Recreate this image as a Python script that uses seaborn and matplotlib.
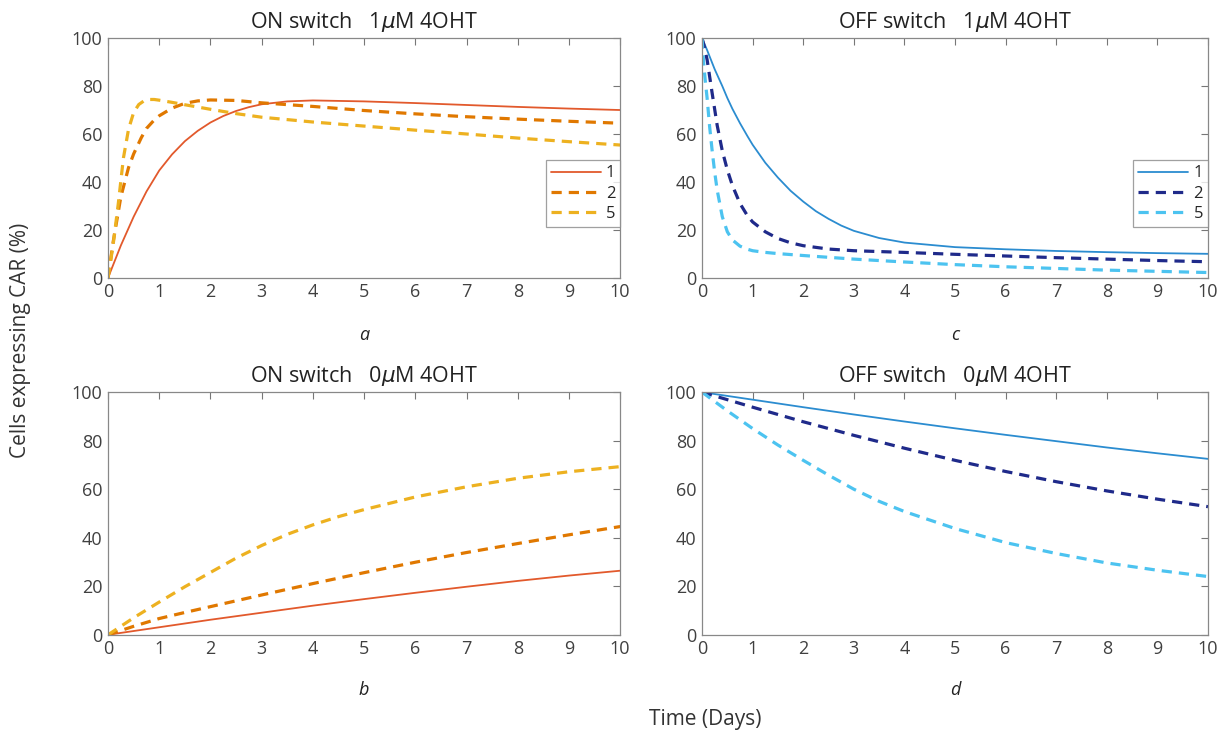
import pandas as pd
import matplotlib
matplotlib.use("Agg")
import matplotlib.pyplot as plt
import seaborn as sns

# curve readings (days, % cells expressing CAR)
a1_x = [0, 0.25, 0.5, 0.75, 1, 1.25, 1.5, 1.75, 2, 2.25, 2.5, 2.75, 3, 3.5, 4, 5, 6, 7, 8, 9, 10]
a1_y = [0, 13.5, 25.5, 36, 44.8, 51.5, 57, 61.3, 64.8, 67.5, 69.6, 71.2, 72.4, 73.6, 74, 73.6, 72.9, 72.1, 71.3, 70.6, 70]
a2_x = [0, 0.1, 0.25, 0.4, 0.5, 0.65, 0.75, 0.9, 1, 1.25, 1.5, 1.75, 2, 2.5, 3, 4, 5, 6, 7, 8, 9, 10]
a2_y = [0, 15, 33.8, 46, 51.7, 58.5, 62.3, 65.8, 67.6, 70.8, 72.8, 73.8, 74.2, 74, 73, 71.5, 69.8, 68.4, 67.2, 66.2, 65.3, 64.5]
a5_x = [0, 0.05, 0.1, 0.2, 0.3, 0.4, 0.5, 0.6, 0.7, 0.8, 0.9, 1, 1.25, 1.5, 2, 2.5, 3, 4, 5, 6, 7, 8, 9, 10]
a5_y = [0, 7, 14, 31, 50, 62, 69, 72.3, 73.8, 74.4, 74.4, 74.1, 73.2, 72.2, 70.3, 68.5, 67, 65, 63.3, 61.6, 60, 58.3, 56.8, 55.4]

c1_x = [0, 0.1, 0.25, 0.4, 0.5, 0.6, 0.75, 0.9, 1, 1.25, 1.5, 1.75, 2, 2.25, 2.5, 2.75, 3, 3.5, 4, 5, 6, 7, 8, 9, 10]
c1_y = [100, 95, 87, 80, 75, 70.5, 64.5, 59, 55.5, 48, 41.8, 36.3, 31.8, 27.8, 24.6, 21.8, 19.6, 16.6, 14.7, 12.8, 11.9, 11.2, 10.7, 10.3, 10]
c2_x = [0, 0.05, 0.1, 0.2, 0.3, 0.4, 0.5, 0.6, 0.75, 0.9, 1, 1.25, 1.5, 1.75, 2, 2.5, 3, 4, 5, 6, 7, 8, 9, 10]
c2_y = [100, 96, 91, 77, 63.5, 53, 45, 38.5, 31, 25.8, 23.3, 19.2, 16.4, 14.6, 13.4, 12, 11.3, 10.6, 9.8, 9.1, 8.4, 7.8, 7.2, 6.7]
c5_x = [0, 0.03, 0.06, 0.1, 0.15, 0.2, 0.25, 0.3, 0.4, 0.5, 0.6, 0.75, 0.9, 1, 1.25, 1.5, 2, 3, 4, 5, 6, 7, 8, 9, 10]
c5_y = [100, 90, 83, 75, 63, 53, 44, 36.5, 25.5, 19.2, 15.8, 13.2, 11.9, 11.3, 10.6, 10.1, 9.3, 7.8, 6.6, 5.5, 4.6, 3.9, 3.2, 2.7, 2.2]

b1_x = [0, 1, 2, 3, 4, 5, 6, 7, 8, 9, 10]
b1_y = [0, 3.1, 6.2, 9.1, 12, 14.7, 17.3, 19.8, 22.2, 24.4, 26.4]
b2_x = [0, 0.5, 1, 1.5, 2, 3, 4, 5, 6, 7, 8, 9, 10]
b2_y = [0, 3.5, 6.7, 9.2, 11.6, 16.4, 21.1, 25.6, 29.9, 33.9, 37.6, 41.2, 44.6]
b5_x = [0, 0.5, 1, 1.5, 2, 2.5, 3, 3.5, 4, 4.5, 5, 6, 7, 8, 9, 10]
b5_y = [0, 7, 13.5, 19.8, 25.7, 31.6, 36.8, 41.4, 45.3, 48.7, 51.6, 56.8, 61, 64.5, 67.2, 69.3]

d_x = [0, 1, 2, 3, 4, 5, 6, 7, 8, 9, 10]
d1_y = [100, 96.9, 93.8, 90.8, 87.9, 85.1, 82.4, 79.8, 77.2, 74.8, 72.5]
d2_y = [100, 93.8, 87.8, 82.2, 76.9, 71.9, 67.3, 63.1, 59.3, 55.9, 52.8]
d5_x = [0, 0.5, 1, 1.5, 2, 2.5, 3, 3.5, 4, 5, 6, 7, 8, 9, 10]
d5_y = [100, 92.3, 85, 78.2, 71.9, 65.8, 60, 55, 50.8, 43.8, 38, 33.5, 29.6, 26.6, 24]

series_names = ["1", "2", "5"]
titles = {
    "a": "ON switch   1$\\mu$M 4OHT",
    "b": "ON switch   0$\\mu$M 4OHT",
    "c": "OFF switch   1$\\mu$M 4OHT",
    "d": "OFF switch   0$\\mu$M 4OHT",
}
x_ticks = list(range(0, 11))
y_ticks = [0, 20, 40, 60, 80, 100]

panels = {
    "a": [(a1_x, a1_y), (a2_x, a2_y), (a5_x, a5_y)],
    "b": [(b1_x, b1_y), (b2_x, b2_y), (b5_x, b5_y)],
    "c": [(c1_x, c1_y), (c2_x, c2_y), (c5_x, c5_y)],
    "d": [(d_x, d1_y), (d_x, d2_y), (d5_x, d5_y)],
}

rows = []
for p, curves in panels.items():
    for name, (xs, ys) in zip(series_names, curves):
        for x, y in zip(xs, ys):
            rows.append({"panel": p, "series": name, "day": x, "value": y})
df = pd.DataFrame(rows)

orange = {"1": "#E2592C", "2": "#E07800", "5": "#EDB120"}
blue = {"1": "#2B8CD0", "2": "#1F2A8A", "5": "#4CC3F0"}

sns.set_theme(style="white")
plt.rcParams["font.family"] = ["Open Sans", "DejaVu Sans"]
plt.rcParams["mathtext.fontset"] = "dejavusans"

fig = plt.figure(figsize=(12.28, 7.33), dpi=100)
positions = {
    "a": [0.088, 0.621, 0.417, 0.327],
    "c": [0.5717, 0.621, 0.412, 0.327],
    "b": [0.088, 0.134, 0.417, 0.331],
    "d": [0.5717, 0.134, 0.412, 0.331],
}
letter_y = {"a": -0.24, "c": -0.24, "b": -0.226, "d": -0.226}

for p, pos in positions.items():
    ax = fig.add_axes(pos)
    sub = df[df["panel"] == p]
    pal = orange if p in "ab" else blue
    sns.lineplot(
        data=sub, x="day", y="value", hue="series", style="series",
        palette=pal, dashes={"1": "", "2": (3.2, 2.2), "5": (3.2, 2.2)},
        size="series", sizes={"1": 1.3, "2": 2.3, "5": 2.3},
        sort=False, estimator=None, ax=ax, legend=(p in "ac"),
    )
    ax.set_xlim(0, 10)
    ax.set_ylim(0, 100)
    ax.set_xticks(x_ticks)
    ax.set_yticks(y_ticks)
    ax.tick_params(direction="in", length=5, width=0.8, color="#777777",
                   labelsize=13, labelcolor="#404040", top=True, right=True,
                   pad=4)
    for s in ax.spines.values():
        s.set_color("#888888")
        s.set_linewidth(0.9)
    ax.set_xlabel("")
    ax.set_ylabel("")
    ax.set_title(titles[p], fontsize=15.5, color="#222222", pad=7)
    ax.text(0.5, letter_y[p], p, transform=ax.transAxes, ha="center",
            va="center", fontsize=13, style="italic", color="#222222")
    if p in "ac":
        leg = ax.legend(loc="upper right", bbox_to_anchor=(1.0, 0.49),
                        borderaxespad=0, fontsize=12, frameon=True,
                        fancybox=False, handlelength=3.0, handletextpad=0.3,
                        labelspacing=0.25, borderpad=0.3)
        leg.get_frame().set_edgecolor("#888888")
        leg.get_frame().set_linewidth(0.9)

fig.text(0.017, 0.535, "Cells expressing CAR (%)", rotation=90, ha="center",
         va="center", fontsize=15, color="#333333")
fig.text(0.574, 0.018, "Time (Days)", ha="center", va="center",
         fontsize=15, color="#333333")

fig.savefig("out.png", dpi=100)
